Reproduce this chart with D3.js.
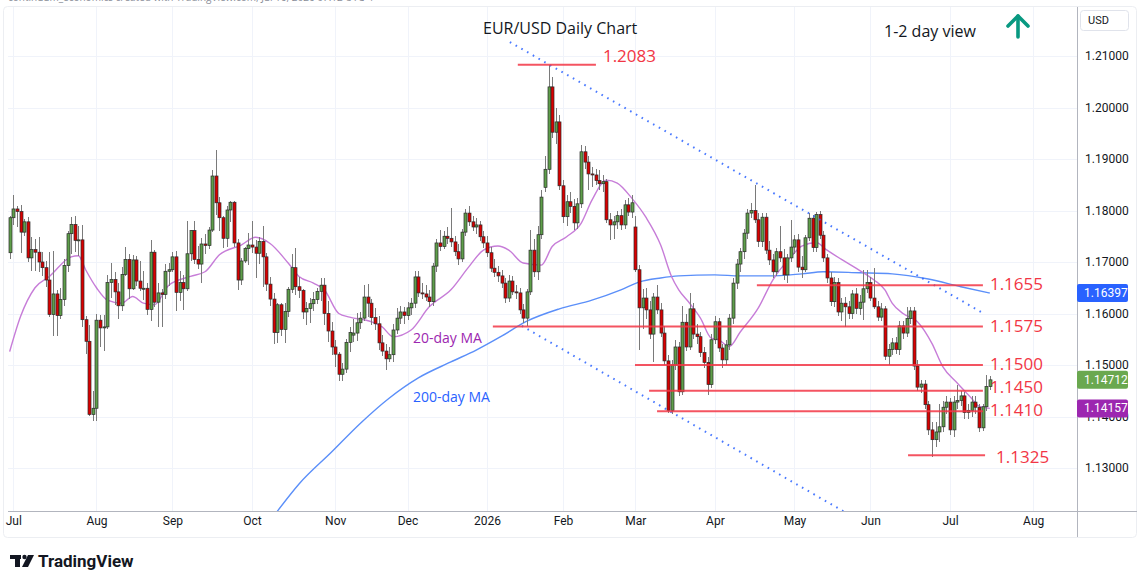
<!DOCTYPE html>
<meta charset="utf-8">
<head>
<title>EUR/USD Daily Chart</title>
<style>
    body { margin: 0; background: #fff; }
    svg { display: block; font-family: "Open Sans", sans-serif; }
    .grid line { stroke: #f0f3fa; stroke-width: 1px; shape-rendering: crispEdges; }
    .axis text { font-family: Roboto, sans-serif; font-size: 12px; fill: #131722; }
    .axis path, .axis line { display: none; }
    .wick { stroke: #7a7a7a; stroke-width: 1px; shape-rendering: crispEdges; }
    .body { stroke: #2a2a2a; stroke-width: 0.7px; }
    .level { stroke: #f23645; stroke-width: 2px; stroke-opacity: 0.85; }
    .levelLabel { fill: #f23645; font-size: 17px; }
    .trend { stroke: #2962ff; stroke-opacity: 0.85; stroke-width: 2px; stroke-dasharray: 1.6 5; fill: none; }
</style>
</head>
<body>
<svg id="chart" width="1140" height="570"></svg>

<script src="https://d3js.org/d3.v7.min.js"></script>
<script>
    // daily candles, 30 Jun 2025 -> 16 Jul 2026
    var opens = [1.1718,1.1786,1.1803,1.1798,1.1758,1.1778,1.1708,1.1724,1.1719,1.1700,1.1689,1.1665,1.1598,1.1638,1.1596,1.1627,1.1693,1.1755,1.1773,1.1742,
        1.1743,1.1588,1.1546,1.1404,1.1416,1.1587,1.1572,1.1574,1.1660,1.1666,1.1642,1.1615,1.1676,1.1705,1.1648,1.1704,1.1663,1.1649,1.1649,1.1608,
        1.1719,1.1622,1.1640,1.1637,1.1682,1.1685,1.1710,1.1641,1.1660,1.1648,1.1716,1.1761,1.1705,1.1696,1.1735,1.1732,1.1762,1.1867,1.1815,1.1786,
        1.1746,1.1801,1.1816,1.1737,1.1665,1.1702,1.1726,1.1733,1.1729,1.1717,1.1740,1.1710,1.1657,1.1628,1.1563,1.1617,1.1569,1.1604,1.1647,1.1689,
        1.1652,1.1645,1.1603,1.1610,1.1619,1.1627,1.1643,1.1655,1.1600,1.1566,1.1535,1.1521,1.1482,1.1492,1.1544,1.1558,1.1562,1.1582,1.1591,1.1632,
        1.1620,1.1592,1.1580,1.1543,1.1527,1.1512,1.1520,1.1568,1.1591,1.1603,1.1596,1.1611,1.1620,1.1671,1.1640,1.1638,1.1632,1.1623,1.1692,1.1737,
        1.1730,1.1750,1.1746,1.1739,1.1720,1.1706,1.1758,1.1795,1.1778,1.1768,1.1772,1.1749,1.1737,1.1718,1.1688,1.1680,1.1673,1.1659,1.1630,1.1663,
        1.1642,1.1640,1.1607,1.1591,1.1642,1.1723,1.1681,1.1753,1.1845,1.1880,1.2040,1.1952,1.1972,1.1848,1.1788,1.1817,1.1808,1.1776,1.1813,1.1914,
        1.1894,1.1871,1.1869,1.1858,1.1852,1.1856,1.1782,1.1772,1.1778,1.1790,1.1772,1.1811,1.1797,1.1768,1.1685,1.1611,1.1630,1.1607,1.1560,1.1632,
        1.1607,1.1562,1.1508,1.1412,1.1500,1.1535,1.1448,1.1583,1.1535,1.1609,1.1560,1.1555,1.1524,1.1505,1.1462,1.1549,1.1584,1.1533,1.1510,1.1539,
        1.1591,1.1659,1.1696,1.1720,1.1756,1.1795,1.1800,1.1782,1.1740,1.1787,1.1723,1.1704,1.1681,1.1720,1.1708,1.1675,1.1708,1.1729,1.1743,1.1690,
        1.1685,1.1747,1.1785,1.1728,1.1792,1.1752,1.1708,1.1669,1.1623,1.1660,1.1603,1.1620,1.1613,1.1600,1.1638,1.1610,1.1622,1.1648,1.1660,1.1630,
        1.1613,1.1593,1.1609,1.1517,1.1530,1.1543,1.1530,1.1576,1.1562,1.1590,1.1605,1.1498,1.1457,1.1463,1.1423,1.1374,1.1355,1.1370,1.1380,1.1418,
        1.1428,1.1374,1.1428,1.1431,1.1440,1.1408,1.1412,1.1428,1.1418,1.1378,1.1419,1.1458];
    var highs = [1.1790,1.1830,1.1808,1.1810,1.1783,1.1788,1.1748,1.1744,1.1748,1.1720,1.1701,1.1720,1.1721,1.1645,1.1650,1.1706,1.1760,1.1788,1.1789,1.1770,
        1.1771,1.1595,1.1578,1.1450,1.1599,1.1597,1.1598,1.1675,1.1699,1.1681,1.1660,1.1690,1.1730,1.1716,1.1714,1.1711,1.1701,1.1683,1.1659,1.1742,
        1.1724,1.1659,1.1648,1.1696,1.1698,1.1720,1.1722,1.1683,1.1675,1.1780,1.1762,1.1780,1.1732,1.1746,1.1754,1.1768,1.1878,1.1918,1.1827,1.1790,
        1.1808,1.1819,1.1819,1.1744,1.1708,1.1730,1.1756,1.1779,1.1742,1.1749,1.1770,1.1718,1.1670,1.1640,1.1621,1.1621,1.1620,1.1652,1.1716,1.1728,
        1.1671,1.1648,1.1622,1.1630,1.1641,1.1650,1.1668,1.1669,1.1625,1.1583,1.1548,1.1525,1.1504,1.1550,1.1574,1.1589,1.1601,1.1602,1.1655,1.1657,
        1.1628,1.1610,1.1595,1.1558,1.1540,1.1535,1.1580,1.1610,1.1614,1.1612,1.1622,1.1630,1.1682,1.1682,1.1660,1.1655,1.1645,1.1698,1.1745,1.1762,
        1.1760,1.1768,1.1805,1.1750,1.1735,1.1765,1.1803,1.1808,1.1790,1.1785,1.1780,1.1760,1.1750,1.1730,1.1705,1.1692,1.1685,1.1668,1.1675,1.1672,
        1.1655,1.1650,1.1618,1.1648,1.1762,1.1745,1.1770,1.1840,1.1905,1.2083,1.2060,1.2000,1.1985,1.1860,1.1830,1.1835,1.1822,1.1825,1.1927,1.1925,
        1.1905,1.1885,1.1880,1.1878,1.1868,1.1862,1.1795,1.1790,1.1800,1.1802,1.1820,1.1825,1.1830,1.1790,1.1695,1.1648,1.1650,1.1625,1.1640,1.1655,
        1.1620,1.1575,1.1520,1.1510,1.1548,1.1545,1.1615,1.1600,1.1640,1.1620,1.1580,1.1565,1.1535,1.1515,1.1560,1.1595,1.1592,1.1540,1.1548,1.1600,
        1.1668,1.1705,1.1728,1.1765,1.1802,1.1815,1.1850,1.1795,1.1795,1.1795,1.1740,1.1715,1.1728,1.1770,1.1725,1.1715,1.1782,1.1752,1.1755,1.1712,
        1.1752,1.1795,1.1792,1.1798,1.1800,1.1760,1.1715,1.1680,1.1670,1.1668,1.1630,1.1632,1.1625,1.1645,1.1650,1.1635,1.1685,1.1685,1.1670,1.1688,
        1.1625,1.1620,1.1615,1.1540,1.1552,1.1555,1.1585,1.1585,1.1612,1.1612,1.1612,1.1510,1.1470,1.1470,1.1430,1.1390,1.1390,1.1425,1.1430,1.1440,
        1.1435,1.1440,1.1462,1.1450,1.1448,1.1425,1.1440,1.1440,1.1425,1.1425,1.1481,1.1478];
    var lows = [1.1705,1.1771,1.1767,1.1718,1.1750,1.1700,1.1683,1.1682,1.1680,1.1672,1.1652,1.1593,1.1556,1.1556,1.1590,1.1614,1.1680,1.1716,1.1720,1.1712,
        1.1573,1.1521,1.1401,1.1391,1.1391,1.1534,1.1528,1.1570,1.1631,1.1617,1.1589,1.1604,1.1673,1.1628,1.1646,1.1653,1.1644,1.1626,1.1598,1.1586,
        1.1612,1.1574,1.1573,1.1629,1.1653,1.1680,1.1605,1.1624,1.1607,1.1644,1.1701,1.1697,1.1686,1.1660,1.1716,1.1725,1.1758,1.1791,1.1760,1.1727,
        1.1730,1.1778,1.1729,1.1646,1.1655,1.1698,1.1694,1.1717,1.1668,1.1697,1.1652,1.1643,1.1614,1.1541,1.1542,1.1556,1.1542,1.1593,1.1640,1.1635,
        1.1631,1.1590,1.1578,1.1582,1.1604,1.1618,1.1625,1.1578,1.1545,1.1519,1.1496,1.1468,1.1469,1.1484,1.1526,1.1545,1.1546,1.1570,1.1585,1.1594,
        1.1578,1.1567,1.1529,1.1518,1.1490,1.1505,1.1505,1.1560,1.1580,1.1580,1.1588,1.1598,1.1610,1.1632,1.1628,1.1625,1.1612,1.1615,1.1680,1.1722,
        1.1725,1.1735,1.1730,1.1712,1.1695,1.1700,1.1750,1.1770,1.1760,1.1755,1.1740,1.1728,1.1710,1.1680,1.1670,1.1662,1.1650,1.1620,1.1622,1.1635,
        1.1628,1.1600,1.1582,1.1575,1.1635,1.1670,1.1665,1.1745,1.1835,1.1870,1.1940,1.1930,1.1840,1.1776,1.1770,1.1795,1.1762,1.1765,1.1805,1.1880,
        1.1840,1.1845,1.1850,1.1840,1.1835,1.1775,1.1743,1.1745,1.1765,1.1762,1.1765,1.1790,1.1785,1.1680,1.1529,1.1570,1.1590,1.1550,1.1506,1.1600,
        1.1555,1.1500,1.1407,1.1405,1.1490,1.1440,1.1442,1.1528,1.1530,1.1550,1.1540,1.1515,1.1495,1.1442,1.1455,1.1540,1.1525,1.1495,1.1500,1.1530,
        1.1580,1.1648,1.1680,1.1705,1.1745,1.1785,1.1775,1.1730,1.1730,1.1715,1.1695,1.1668,1.1672,1.1700,1.1665,1.1660,1.1700,1.1715,1.1680,1.1668,
        1.1680,1.1740,1.1720,1.1720,1.1745,1.1700,1.1660,1.1615,1.1612,1.1595,1.1585,1.1574,1.1590,1.1590,1.1600,1.1598,1.1588,1.1640,1.1625,1.1608,
        1.1585,1.1585,1.1510,1.1500,1.1520,1.1522,1.1520,1.1550,1.1555,1.1580,1.1490,1.1450,1.1445,1.1415,1.1365,1.1322,1.1340,1.1350,1.1370,1.1405,
        1.1365,1.1360,1.1415,1.1420,1.1395,1.1395,1.1400,1.1405,1.1370,1.1372,1.1410,1.1452];
    var closes = [1.1786,1.1803,1.1798,1.1758,1.1778,1.1708,1.1724,1.1719,1.1700,1.1689,1.1665,1.1598,1.1638,1.1596,1.1627,1.1693,1.1755,1.1773,1.1742,1.1743,
        1.1588,1.1546,1.1404,1.1416,1.1587,1.1572,1.1574,1.1660,1.1666,1.1642,1.1615,1.1676,1.1705,1.1648,1.1704,1.1663,1.1649,1.1649,1.1608,1.1719,
        1.1622,1.1640,1.1637,1.1682,1.1685,1.1710,1.1641,1.1660,1.1648,1.1716,1.1761,1.1705,1.1696,1.1735,1.1732,1.1762,1.1867,1.1815,1.1786,1.1746,
        1.1801,1.1816,1.1737,1.1665,1.1702,1.1726,1.1733,1.1729,1.1717,1.1740,1.1710,1.1657,1.1628,1.1563,1.1617,1.1569,1.1604,1.1647,1.1689,1.1652,
        1.1645,1.1603,1.1610,1.1619,1.1627,1.1643,1.1655,1.1600,1.1566,1.1535,1.1521,1.1482,1.1492,1.1544,1.1563,1.1562,1.1582,1.1591,1.1632,1.1620,
        1.1592,1.1580,1.1543,1.1527,1.1512,1.1520,1.1568,1.1591,1.1603,1.1596,1.1611,1.1620,1.1671,1.1640,1.1638,1.1632,1.1623,1.1692,1.1737,1.1730,
        1.1750,1.1746,1.1739,1.1720,1.1706,1.1758,1.1795,1.1778,1.1768,1.1772,1.1749,1.1737,1.1718,1.1688,1.1680,1.1673,1.1659,1.1630,1.1663,1.1642,
        1.1640,1.1607,1.1591,1.1642,1.1723,1.1681,1.1753,1.1826,1.1880,1.2040,1.1952,1.1972,1.1848,1.1788,1.1817,1.1808,1.1776,1.1813,1.1914,1.1894,
        1.1871,1.1869,1.1858,1.1852,1.1856,1.1782,1.1772,1.1778,1.1790,1.1772,1.1811,1.1797,1.1815,1.1685,1.1611,1.1630,1.1607,1.1560,1.1632,1.1607,
        1.1562,1.1508,1.1412,1.1500,1.1535,1.1448,1.1583,1.1535,1.1609,1.1560,1.1555,1.1524,1.1505,1.1462,1.1549,1.1584,1.1533,1.1510,1.1539,1.1591,
        1.1659,1.1696,1.1720,1.1756,1.1795,1.1800,1.1782,1.1740,1.1787,1.1723,1.1704,1.1681,1.1720,1.1708,1.1675,1.1708,1.1729,1.1743,1.1690,1.1685,
        1.1747,1.1785,1.1728,1.1792,1.1752,1.1708,1.1669,1.1623,1.1660,1.1603,1.1620,1.1613,1.1600,1.1638,1.1610,1.1622,1.1648,1.1660,1.1630,1.1613,
        1.1593,1.1609,1.1517,1.1530,1.1543,1.1530,1.1576,1.1562,1.1590,1.1605,1.1498,1.1457,1.1463,1.1423,1.1374,1.1355,1.1370,1.1380,1.1418,1.1428,
        1.1374,1.1428,1.1431,1.1440,1.1408,1.1412,1.1428,1.1418,1.1378,1.1419,1.1458,1.14712];

    // moving averages (bar index, value)
    var ma20Idx = [0,3,7,11,17,19,21,24,27,31,34,37,40,44,50,54,58,64,68,72,77,80,84,87,91,94,100,103,106,111,116,122,127,131,135,138,142,147,150,154,158,161,165,168,
        172,176,180,183,185,188,191,194,196,199,202,207,211,216,219,223,226,230,234,239,242,244,247,251,255,258,262,266,268,271];
    var ma20Val = [1.1526,1.1594,1.1650,1.1672,1.1710,1.1712,1.1685,1.1650,1.1626,1.1620,1.1633,1.1620,1.1617,1.1655,1.1672,1.1681,1.1714,1.1733,1.1748,1.1736,1.1698,1.1672,1.1659,1.1646,1.1600,1.1593,1.1584,1.1574,1.1555,1.1568,1.1613,1.1646,1.1691,
        1.1723,1.1731,1.1723,1.1698,1.1694,1.1730,1.1749,1.1775,1.1820,1.1859,1.1853,1.1824,1.1786,1.1733,1.1672,1.1646,1.1620,1.1591,1.1552,1.1549,1.1536,1.1564,1.1611,1.1665,1.1710,1.1731,1.1738,1.1723,1.1705,1.1688,1.1665,1.1646,1.1620,
        1.1600,1.1584,1.1542,1.1497,1.1465,1.1435,1.1420,1.14157];
    var ma200Idx = [74,80,89,97,105,113,122,129,136,143,152,161,169,174,180,185,195,202,210,219,225,235,244,254,263,271];
    var ma200Val = [1.1216,1.1269,1.1331,1.1387,1.1436,1.1475,1.1506,1.1529,1.1556,1.1585,1.1609,1.1626,1.1646,1.1661,1.1669,1.1673,1.1675,1.1673,1.1673,1.1677,1.1681,1.1679,1.1677,1.1667,1.1652,1.16397];

    // drawn levels and trend lines
    var levelVals = [1.2083, 1.1655, 1.1575, 1.1500, 1.1450, 1.1410, 1.1325];
    var levelFrom = [140.5, 206.6, 133.6, 172.9, 176.8, 179.0, 248.4];
    var levelTo = [162.1, 269.1, 269.1, 269.1, 269.1, 269.1, 269.7];
    var trendUpper = [[138.3, 1.2127], [269.1, 1.1601]];
    var trendLower = [[141.6, 1.1576], [232.0, 1.1210]];

    var priceTicks = [1.13, 1.14, 1.15, 1.16, 1.17, 1.18, 1.19, 1.20, 1.21];
    var tagVals = [1.16397, 1.14712, 1.14157];
    var tagColors = ["#2962ff", "#6aa84f", "#9c27b0"];

    var svg = d3.select("#chart"),
        plot = {left: 8, right: 1077, top: 7, bottom: 511};

    // one bar per weekday, no bars on 25 Dec and 1 Jan
    var dates = [];
    var dt = new Date(2025, 5, 30);
    while (dates.length < 290) {
        var wd = dt.getDay();
        var skip = (dt.getMonth() == 11 && dt.getDate() == 25) || (dt.getMonth() == 0 && dt.getDate() == 1);
        if (wd != 0 && wd != 6 && !skip) dates.push(new Date(dt));
        dt.setDate(dt.getDate() + 1);
    }

    var x = d3.scaleLinear().domain([0, 283]).range([9.68, 9.68 + 3.6166 * 283]);
    var y = d3.scaleLinear().domain([1.13, 1.21]).range([468, 56]);

    var monthTicks = [];
    dates.forEach(function (d, i) {
        if (i > 0 && d.getMonth() != dates[i - 1].getMonth() && x(i) < plot.right - 10) monthTicks.push(i);
    });
    var monthName = d3.timeFormat("%b");

    svg.append("defs").append("clipPath").attr("id", "plotclip")
        .append("rect").attr("x", plot.left).attr("y", plot.top)
        .attr("width", plot.right - plot.left).attr("height", plot.bottom - plot.top);

    // header line, mostly cut off at the top edge
    svg.append("text").attr("x", 8).attr("y", 1)
        .style("font-size", "10px").style("fill", "#8a8e99")
        .text("continuum_economics created with TradingView.com, Jul 16, 2026 07:12 UTC-4");

    // frame
    svg.append("rect").attr("x", 3.5).attr("y", 6.5).attr("width", 1133).attr("height", 531)
        .attr("rx", 4).style("fill", "none").style("stroke", "#eceef2");

    // grid
    var grid = svg.append("g").attr("class", "grid");
    grid.selectAll(".h").data(priceTicks).enter().append("line")
        .attr("x1", plot.left).attr("x2", plot.right)
        .attr("y1", function (d) { return Math.round(y(d)) + 0.5; })
        .attr("y2", function (d) { return Math.round(y(d)) + 0.5; });
    grid.selectAll(".v").data(monthTicks).enter().append("line")
        .attr("y1", plot.top).attr("y2", plot.bottom)
        .attr("x1", function (d) { return Math.round(x(d)) + 0.5; })
        .attr("x2", function (d) { return Math.round(x(d)) + 0.5; });

    var g = svg.append("g").attr("clip-path", "url(#plotclip)");

    // moving averages
    var maLine = d3.line().curve(d3.curveMonotoneX)
        .x(function (d) { return x(d[0]); })
        .y(function (d) { return y(d[1]); });
    g.append("path").datum(d3.zip(ma200Idx, ma200Val)).attr("d", maLine)
        .style("fill", "none").style("stroke", "#5b8ff9").style("stroke-width", 1.4);
    g.append("path").datum(d3.zip(ma20Idx, ma20Val)).attr("d", maLine)
        .style("fill", "none").style("stroke", "#c77dd8").style("stroke-width", 1.4);

    // candles
    var bars = d3.range(closes.length);
    g.selectAll(".wick").data(bars).enter().append("line")
        .attr("class", "wick")
        .attr("x1", function (i) { return Math.round(x(i)) + 0.5; })
        .attr("x2", function (i) { return Math.round(x(i)) + 0.5; })
        .attr("y1", function (i) { return y(highs[i]); })
        .attr("y2", function (i) { return y(lows[i]); });
    g.selectAll(".body").data(bars).enter().append("rect")
        .attr("class", "body")
        .attr("x", function (i) { return Math.round(x(i)) - 1; })
        .attr("width", 3)
        .attr("y", function (i) { return y(Math.max(opens[i], closes[i])); })
        .attr("height", function (i) { return Math.max(1, Math.abs(y(opens[i]) - y(closes[i]))); })
        .style("fill", function (i) { return closes[i] >= opens[i] ? "#5e9e4a" : "#d90000"; });

    // trend channel
    var tl = d3.line().x(function (d) { return x(d[0]); }).y(function (d) { return y(d[1]); });
    g.append("path").datum(trendUpper).attr("class", "trend").attr("d", tl);
    g.append("path").datum(trendLower).attr("class", "trend").attr("d", tl);

    // support / resistance levels
    var labelShift = [-3, 5, 6, 5, 2, 5, 8];
    g.selectAll(".level").data(levelVals).enter().append("line")
        .attr("class", "level")
        .attr("x1", function (d, k) { return x(levelFrom[k]); })
        .attr("x2", function (d, k) { return x(levelTo[k]); })
        .attr("y1", function (d) { return y(d); })
        .attr("y2", function (d) { return y(d); });
    svg.selectAll(".levelLabel").data(levelVals).enter().append("text")
        .attr("class", "levelLabel")
        .attr("x", function (d, k) { return x(levelTo[k]) + (k == 6 ? 11 : 7); })
        .attr("y", function (d, k) { return y(d) + labelShift[k]; })
        .text(function (d) { return d3.format(".4f")(d); });

    // annotations
    svg.append("text").attr("x", 483).attr("y", 34)
        .style("font-size", "16px").style("fill", "#131722").text("EUR/USD Daily Chart");
    svg.append("text").attr("x", 884).attr("y", 37)
        .style("font-size", "16px").style("fill", "#131722").text("1-2 day view");
    svg.append("text").attr("x", x(111.5)).attr("y", y(1.1552) + 5)
        .style("font-size", "14px").style("fill", "#9c27b0").text("20-day MA");
    svg.append("text").attr("x", x(111.5)).attr("y", y(1.1438) + 5)
        .style("font-size", "14px").style("fill", "#2962ff").text("200-day MA");

    // up arrow
    var arrow = svg.append("g").style("stroke", "#089981").style("stroke-width", 3.6)
        .style("fill", "none").style("stroke-linecap", "round").style("stroke-linejoin", "round");
    arrow.append("line").attr("x1", 1018).attr("x2", 1018).attr("y1", 16).attr("y2", 37);
    arrow.append("polyline").attr("points", "1008,26 1018,16 1028,26");

    // axes
    svg.append("line").attr("x1", plot.left).attr("x2", 1137)
        .attr("y1", plot.bottom + 0.5).attr("y2", plot.bottom + 0.5)
        .style("stroke", "#b2b5be").style("shape-rendering", "crispEdges");
    svg.append("line").attr("x1", plot.right + 0.5).attr("x2", plot.right + 0.5)
        .attr("y1", plot.top).attr("y2", 537)
        .style("stroke", "#b2b5be").style("shape-rendering", "crispEdges");

    svg.append("g").attr("class", "axis")
        .attr("transform", "translate(1085,0)")
        .call(d3.axisRight(y).tickValues(priceTicks).tickSize(0).tickPadding(0)
            .tickFormat(d3.format(".5f")));

    svg.append("g").attr("class", "axis")
        .attr("transform", "translate(0," + (plot.bottom + 5) + ")")
        .call(d3.axisBottom(x).tickValues(monthTicks).tickSize(0).tickPadding(0)
            .tickFormat(function (i) {
                return dates[i].getMonth() == 0 ? dates[i].getFullYear() : monthName(dates[i]);
            }));

    // currency box
    svg.append("rect").attr("x", 1080.5).attr("y", 10.5).attr("width", 48).attr("height", 20)
        .attr("rx", 3).style("fill", "#fff").style("stroke", "#e0e3eb");
    svg.append("text").attr("x", 1088).attr("y", 24)
        .style("font-family", "Roboto, sans-serif").style("font-size", "11px").style("fill", "#131722").text("USD");

    // last value tags
    var tags = svg.selectAll(".tag").data(tagVals).enter().append("g");
    tags.append("rect").attr("x", 1077).attr("width", 51).attr("height", 18).attr("rx", 2)
        .attr("y", function (d) { return y(d) - 9; })
        .style("fill", function (d, k) { return tagColors[k]; });
    tags.append("text").attr("x", 1084).attr("y", function (d) { return y(d) + 4; })
        .style("font-family", "Roboto, sans-serif").style("font-size", "12px").style("fill", "#fff")
        .text(function (d) { return d3.format(".5f")(d); });

    // TradingView mark
    var logo = svg.append("g").style("fill", "#131722");
    logo.append("rect").attr("x", 10).attr("y", 555).attr("width", 11).attr("height", 4);
    logo.append("rect").attr("x", 15).attr("y", 555).attr("width", 5).attr("height", 12);
    logo.append("circle").attr("cx", 24.5).attr("cy", 557).attr("r", 2.2);
    logo.append("polygon").attr("points", "28,555 34,555 28,567 22,567");
    svg.append("text").attr("x", 38).attr("y", 567)
        .style("font-family", "Roboto, sans-serif").style("font-size", "17px")
        .style("font-weight", "bold").style("fill", "#131722").text("TradingView");
</script>
</body>
